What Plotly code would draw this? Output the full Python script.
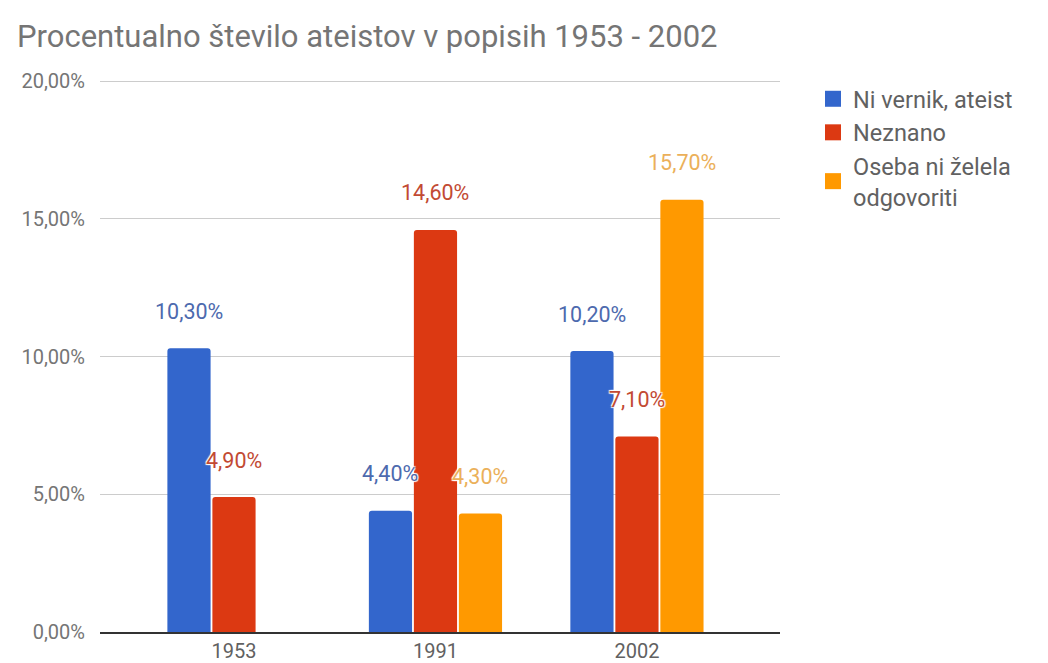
import plotly.graph_objects as go

categories = ["1953", "1991", "2002"]
series_names = ["Ni vernik, ateist", "Neznano", "Oseba ni želela<br>odgovoriti"]
ni_vernik = [10.30, 4.40, 10.20]
neznano = [4.90, 14.60, 7.10]
ni_zelela = [None, 4.30, 15.70]
y_ticks = [0, 5, 10, 15, 20]
y_tick_labels = ["0,00%", "5,00%", "10,00%", "15,00%", "20,00%"]

bar_colors = ["#3366CC", "#DC3912", "#FF9900"]
label_colors = ["#4D6AAE", "#C24A33", "#EBB05A"]
series_values = [ni_vernik, neznano, ni_zelela]

fig = go.Figure()
for name, vals, col in zip(series_names, series_values, bar_colors):
    fig.add_trace(go.Bar(
        x=categories, y=vals, name=name, showlegend=False,
        marker=dict(color=col, line=dict(width=0), cornerradius=3),
    ))
# legend entries with larger square swatches
for i, (name, col) in enumerate(zip(series_names, bar_colors)):
    fig.add_trace(go.Scatter(
        x=[None], y=[None], mode="markers", name=name,
        legendgroup=f"g{i}",
        marker=dict(symbol="square", size=16, color=col),
    ))

bargap = 0.33
slot = (1 - bargap) / 3
annotations = []
for si, (vals, lc) in enumerate(zip(series_values, label_colors)):
    for ci, v in enumerate(vals):
        if v is None:
            continue
        annotations.append(dict(
            x=ci + (si - 1) * slot, y=v, xref="x", yref="y",
            text=f"{v:.2f}".replace(".", ",") + "%",
            showarrow=False, yshift=37,
            font=dict(family="Roboto", size=21.5, color=lc,
                      shadow="1px 1px 1px white, -1px -1px 1px white, 1px -1px 1px white, -1px 1px 1px white"),
        ))

top_m = 73
plot_h = 632 - top_m
fig.update_layout(
    width=1048, height=663,
    margin=dict(l=100, r=268, t=top_m, b=31),
    paper_bgcolor="white", plot_bgcolor="white",
    barmode="group", bargap=bargap, bargroupgap=0.04,
    title=dict(text="Procentualno število ateistov v popisih 1953 - 2002",
               x=17 / 1048, xanchor="left", y=1 - 36 / 663, yanchor="middle",
               font=dict(family="Roboto", size=31, color="#757575")),
    font=dict(family="Roboto", color="#444444"),
    legend=dict(x=(813 - 100) / 680, y=1 - 4 / plot_h, xanchor="left", yanchor="top",
                font=dict(family="Roboto", size=23.5, color="#616161"),
                tracegroupgap=0, itemsizing="trace"),
    annotations=annotations,
)
fig.update_xaxes(
    type="category", range=[-0.665, 2.71], automargin=False,
    showline=True, linecolor="#333333", linewidth=1.5,
    showgrid=False, ticks="",
    tickfont=dict(family="Roboto", size=20, color="#616161"),
)
fig.update_yaxes(
    range=[0, 20.3], tickvals=y_ticks, ticktext=y_tick_labels, automargin=False,
    showgrid=True, gridcolor="#cccccc", gridwidth=1, zeroline=False,
    tickfont=dict(family="Roboto", size=20, color="#757575"),
    ticklabelstandoff=14,
)

fig.write_html("out.html", config={"displayModeBar": False},
               post_script="document.body.style.margin='0';")
